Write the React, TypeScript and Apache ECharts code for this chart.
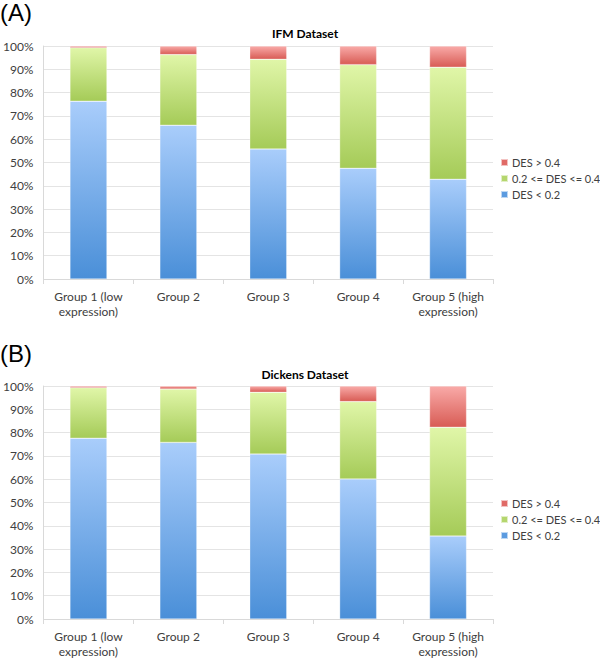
import React, { useEffect, useRef } from "react";
import * as echarts from "echarts";

const categories = [
  "Group 1 (low\nexpression)",
  "Group 2",
  "Group 3",
  "Group 4",
  "Group 5 (high\nexpression)",
];
const yTicks = [0, 10, 20, 30, 40, 50, 60, 70, 80, 90, 100];
const seriesNames = ["DES < 0.2", "0.2 <= DES <= 0.4", "DES > 0.4"];

const ifmLow = [76.3, 66.0, 55.8, 47.5, 42.8];
const ifmMid = [23.0, 30.3, 38.5, 44.5, 48.1];
const ifmHigh = [0.7, 3.7, 5.7, 8.0, 9.1];

const dickensLow = [77.6, 75.8, 70.8, 60.1, 35.6];
const dickensMid = [21.7, 22.9, 26.5, 33.2, 46.7];
const dickensHigh = [0.7, 1.3, 2.7, 6.7, 17.7];

const FONT = "Lato";

const grad = (top: string, bottom: string) =>
  new echarts.graphic.LinearGradient(0, 0, 0, 1, [
    { offset: 0, color: top },
    { offset: 1, color: bottom },
  ]);

const colorsTop = ["#a9cdfb", "#e0f6a8", "#f9aaa8"];
const colorsBottom = ["#4a8fd8", "#a5cb58", "#d85c55"];
const legendColors = ["#5b9be0", "#b5d66e", "#e06a66"];

export default function App() {
  const ref = useRef<HTMLDivElement>(null);
  useEffect(() => {
    document.body.style.margin = "0";
    const chart = echarts.init(ref.current!, null, { renderer: "svg" });
    const grids = [
      { left: 39, top: 46, width: 454, height: 233 },
      { left: 39, top: 386, width: 454, height: 234 },
    ];
    const datasets = [
      [ifmLow, ifmMid, ifmHigh],
      [dickensLow, dickensMid, dickensHigh],
    ];
    const xAxes = grids.map((_, i) => ({
      type: "category",
      gridIndex: i,
      data: categories,
      axisLine: { lineStyle: { color: "#d9d9d9" } },
      axisTick: { show: true, length: 5, lineStyle: { color: "#d9d9d9" } },
      axisLabel: {
        color: "#404040",
        fontFamily: FONT,
        fontSize: 12,
        lineHeight: 15,
        margin: 10,
        interval: 0,
      },
    }));
    const yAxes = grids.map((_, i) => ({
      type: "value",
      gridIndex: i,
      min: 0,
      max: 100,
      interval: 10,
      axisLine: { show: true, lineStyle: { color: "#d9d9d9" } },
      axisTick: { show: false },
      splitLine: { lineStyle: { color: "#e4e4e4" } },
      axisLabel: {
        color: "#404040",
        fontFamily: FONT,
        fontSize: 12,
        margin: 10,
        formatter: (v: number) => (yTicks.includes(v) ? v + "%" : ""),
      },
    }));
    const series: any[] = [];
    datasets.forEach((ds, gi) => {
      ds.forEach((vals, si) => {
        series.push({
          type: "bar",
          name: seriesNames[si],
          xAxisIndex: gi,
          yAxisIndex: gi,
          stack: "s" + gi,
          barWidth: 37,
          data: vals,
          itemStyle: {
            color: grad(colorsTop[si], colorsBottom[si]),
            borderColor: "rgba(255,255,255,0.6)",
            borderWidth: 0.5,
          },
        });
      });
    });
    const legendData = [2, 1, 0].map((i) => ({
      name: seriesNames[i],
      itemStyle: { color: legendColors[i] },
    }));
    const legends = [157, 498].map((top) => ({
      orient: "vertical",
      left: 500,
      top,
      padding: 0,
      icon: "rect",
      itemWidth: 7,
      itemHeight: 7,
      itemGap: 5,
      data: legendData,
      textStyle: { color: "#404040", fontFamily: FONT, fontSize: 11, padding: [0, 0, 0, -1] },
    }));
    chart.setOption({
      animation: false,
      backgroundColor: "#ffffff",
      title: [
        {
          text: "IFM Dataset",
          left: 300,
          top: 22,
          textAlign: "center",
          textStyle: { fontFamily: FONT, fontSize: 12, fontWeight: "bold", color: "#000" },
        },
        {
          text: "Dickens Dataset",
          left: 300,
          top: 363,
          textAlign: "center",
          textStyle: { fontFamily: FONT, fontSize: 12, fontWeight: "bold", color: "#000" },
        },
      ],
      graphic: [
        {
          type: "text",
          left: 0,
          top: 0,
          style: { text: "(A)", fontFamily: "Liberation Sans", fontSize: 24, fill: "#000" },
        },
        {
          type: "text",
          left: 0,
          top: 341,
          style: { text: "(B)", fontFamily: "Liberation Sans", fontSize: 24, fill: "#000" },
        },
      ],
      legend: legends,
      grid: grids,
      xAxis: xAxes,
      yAxis: yAxes,
      series,
    });
    return () => chart.dispose();
  }, []);
  return <div ref={ref} style={{ width: 600, height: 659 }} />;
}
